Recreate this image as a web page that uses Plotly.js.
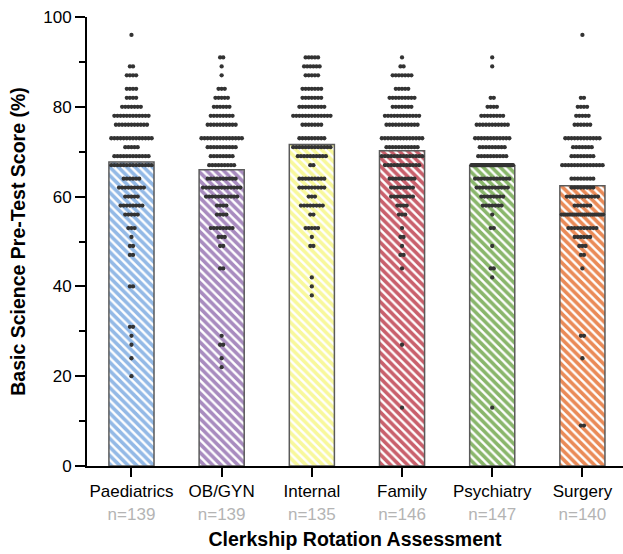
<!DOCTYPE html>
<html>
<head>
<meta charset="utf-8">
<script src="https://cdn.plot.ly/plotly-3.0.1.min.js"></script>
<style>html,body{margin:0;padding:0;background:#fff;}#chart{width:623px;height:554px;}</style>
</head>
<body>
<div id="chart"></div>
<script>
// ---- data ----
const categories = ['Paediatrics', 'OB/GYN', 'Internal', 'Family', 'Psychiatry', 'Surgery'];
const nLabels = ['n=139', 'n=139', 'n=135', 'n=146', 'n=147', 'n=140'];
const means = [67.7, 66.0, 71.6, 70.2, 66.9, 62.4];
const barColors = ['#93b9e6', '#a88bbf', '#f8f89c', '#c9606c', '#89b66b', '#ea8a57'];

const paedScores = [96, 89, 87, 84, 82, 80, 78, 76, 73, 71, 69, 67, 64, 62, 60, 58, 56, 53, 51, 49, 47, 40, 31, 29, 27, 24, 20];
const paedCounts = [1, 2, 4, 4, 4, 7, 12, 11, 14, 5, 12, 14, 6, 9, 5, 8, 5, 3, 1, 2, 2, 2, 2, 1, 1, 1, 1];

const obgynScores = [91, 89, 87, 84, 82, 80, 78, 76, 73, 71, 69, 67, 64, 62, 60, 58, 56, 53, 51, 49, 44, 29, 27, 24, 22];
const obgynCounts = [2, 1, 1, 3, 5, 6, 8, 10, 14, 10, 8, 9, 10, 13, 11, 4, 4, 8, 3, 2, 2, 1, 2, 1, 1];

const internalScores = [91, 89, 87, 84, 82, 80, 78, 76, 73, 71, 69, 67, 64, 62, 60, 58, 56, 53, 51, 49, 42, 40, 38];
const internalCounts = [5, 6, 5, 7, 7, 9, 13, 7, 9, 13, 10, 2, 9, 9, 3, 8, 2, 5, 1, 2, 1, 1, 1];

const familyScores = [91, 89, 87, 84, 82, 80, 78, 76, 73, 71, 69, 67, 64, 62, 60, 58, 56, 53, 51, 49, 47, 44, 27, 13];
const familyCounts = [1, 2, 7, 5, 9, 7, 12, 11, 14, 11, 14, 12, 9, 8, 8, 4, 3, 1, 2, 1, 2, 1, 1, 1];

const psychScores = [91, 89, 82, 80, 78, 76, 73, 71, 69, 67, 64, 62, 60, 58, 56, 53, 49, 44, 42, 13];
const psychCounts = [1, 1, 2, 4, 8, 11, 12, 9, 10, 43, 12, 11, 8, 7, 1, 2, 1, 2, 1, 1];

const surgeryScores = [96, 82, 80, 78, 76, 73, 71, 69, 67, 64, 62, 60, 58, 56, 53, 51, 49, 47, 44, 29, 24, 9];
const surgeryCounts = [1, 2, 4, 5, 6, 12, 7, 8, 14, 8, 8, 11, 6, 21, 10, 6, 3, 2, 1, 2, 1, 2];

const allScores = [paedScores, obgynScores, internalScores, familyScores, psychScores, surgeryScores];
const allCounts = [paedCounts, obgynCounts, internalCounts, familyCounts, psychCounts, surgeryCounts];

// ---- dot layout (rows of dots, compressed to bar width when crowded) ----
const barWidth = 0.5;
const dotStep = 0.0345;
const maxSpan = 0.46;
const dotX = [], dotY = [];
allScores.forEach((scores, i) => {
  scores.forEach((s, r) => {
    const c = allCounts[i][r];
    const span = Math.min((c - 1) * dotStep, maxSpan);
    const step = c > 1 ? span / (c - 1) : 0;
    for (let k = 0; k < c; k++) {
      dotX.push(i - span / 2 + k * step);
      dotY.push(s);
    }
  });
});

const idx = categories.map((_, i) => i);
const tickText = categories.map((c, i) => c + '<br><span style="color:#b4b4b4">' + nLabels[i] + '</span>');

const bars = {
  type: 'bar',
  x: idx,
  y: means,
  width: barWidth,
  marker: {
    color: barColors,
    line: {color: '#5a5a5a', width: 1.5},
    pattern: {shape: '\\', fgcolor: barColors, bgcolor: '#e2e2e2', size: 6, solidity: 0.6, fillmode: 'replace'}
  },
  hoverinfo: 'skip'
};

const dots = {
  type: 'scatter',
  mode: 'markers',
  x: dotX,
  y: dotY,
  marker: {color: '#333333', size: 4.3, line: {width: 0}},
  hoverinfo: 'skip'
};

const layout = {
  width: 623,
  height: 554,
  margin: {l: 87, r: 0, t: 17, b: 88},
  paper_bgcolor: '#ffffff',
  plot_bgcolor: '#ffffff',
  showlegend: false,
  font: {family: '"Liberation Sans", Arial, sans-serif', color: '#000', size: 17},
  xaxis: {
    range: [-0.493, 5.45],
    tickvals: idx,
    ticktext: tickText,
    showline: true, linecolor: '#000', linewidth: 2,
    ticks: 'outside', ticklen: 9, tickwidth: 2, tickcolor: '#000',
    showgrid: false, zeroline: false,
    tickfont: {size: 17},
    title: {text: '<b>Clerkship Rotation Assessment</b>', font: {size: 19.5}, standoff: 10}
  },
  yaxis: {
    range: [0, 100],
    tickvals: [0, 20, 40, 60, 80, 100],
    showline: true, linecolor: '#000', linewidth: 2,
    ticks: 'outside', ticklen: 10, tickwidth: 2, tickcolor: '#000',
    minor: {tickvals: [10, 30, 50, 70, 90], ticks: 'outside', ticklen: 6, tickwidth: 2, tickcolor: '#000', showgrid: false},
    showgrid: false, zeroline: false,
    tickfont: {size: 17},
    title: {text: '<b>Basic Science Pre-Test Score (%)</b>', font: {size: 19.5}, standoff: 12}
  }
};

Plotly.newPlot('chart', [bars, dots], layout, {displayModeBar: false, staticPlot: true});
</script>
</body>
</html>
